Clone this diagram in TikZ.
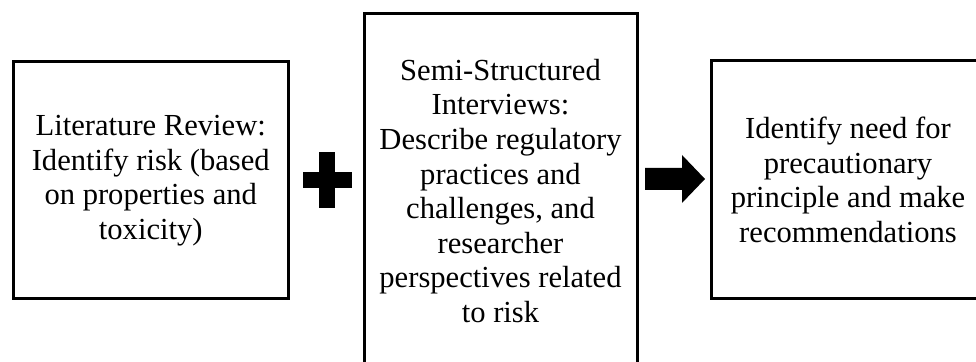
\documentclass[tikz,border=0pt]{standalone}
\usepackage{fontspec}
\setmainfont{Liberation Serif}
\usetikzlibrary{positioning}

\begin{document}
\begin{tikzpicture}[x=0.5pt, y=-0.5pt,
    stagebox/.style={draw, line width=1.5pt, align=center, inner sep=0pt,
      font=\fontsize{15.3}{17.3}\selectfont}]

  \useasboundingbox (0,0) rectangle (976,362);

  % Boxes
  \node[stagebox, minimum width=137.25pt, minimum height=118.5pt] (review)
    at (150.75,180.5) {Literature Review:\\ Identify risk (based\\ on
    properties and\\ toxicity)};
  \node[stagebox, minimum width=136.5pt, minimum height=177pt] (interviews)
    at (500.5,191) {Semi-Structured\\ Interviews:\\ Describe regulatory\\
    practices and\\ challenges, and\\ researcher\\ perspectives related\\ to
    risk};
  \node[stagebox, minimum width=137pt, minimum height=119pt] (need)
    at (848,180) {Identify need for\\ precautionary\\ principle and make\\
    recommendations};

  % Plus sign
  \coordinate (plus) at (327,180);
  \fill (plus) ++(-8,-28) rectangle ++(16,56);
  \fill (plus) ++(-24.5,-8) rectangle ++(49,16);

  % Block arrow
  \coordinate (go) at (645,179);
  \fill (go) ++(0,-11) -- ++(37,0) -- ++(0,-13) -- ++(23,24) -- ++(-23,24)
    -- ++(0,-13) -- ++(-37,0) -- cycle;
\end{tikzpicture}
\end{document}
